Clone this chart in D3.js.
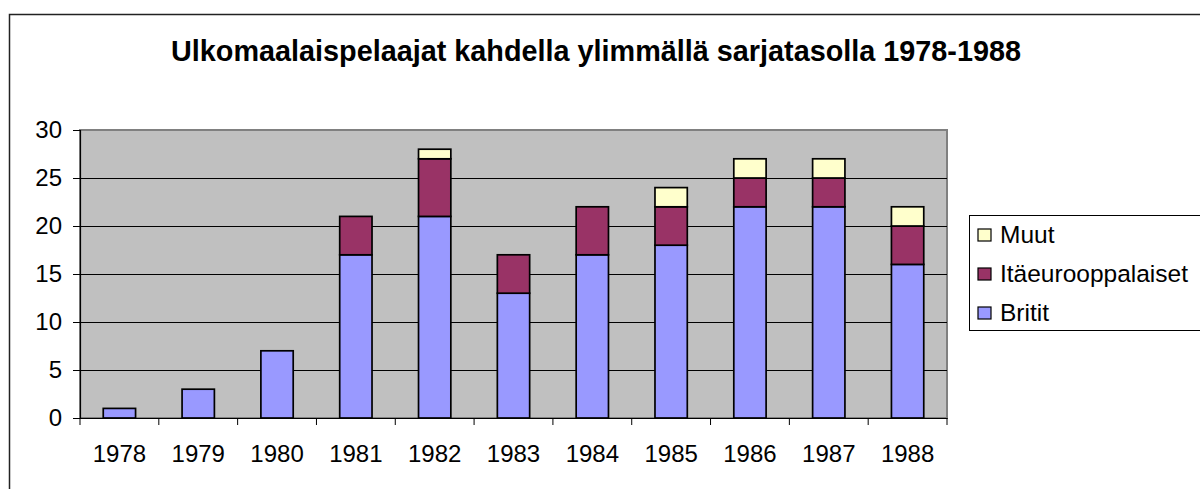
<!DOCTYPE html>
<html>
<head>
<meta charset="utf-8">
<script src="https://cdn.jsdelivr.net/npm/d3@7"></script>
<style>
  body { margin: 0; background: #fff; }
  svg { display: block; font-family: "Liberation Sans", Arial, sans-serif; }
</style>
</head>
<body>
<svg></svg>
<script>
// data
const years = ["1978", "1979", "1980", "1981", "1982", "1983", "1984", "1985", "1986", "1987", "1988"];
const britit = [1, 3, 7, 17, 21, 13, 17, 18, 22, 22, 16];
const itaeurooppalaiset = [0, 0, 0, 4, 6, 4, 5, 4, 3, 3, 4];
const muut = [0, 0, 0, 0, 1, 0, 0, 2, 2, 2, 2];
const seriesNames = ["Britit", "Itäeurooppalaiset", "Muut"];
const seriesColors = ["#9999ff", "#993366", "#ffffcc"];
const yTicks = [0, 5, 10, 15, 20, 25, 30];
const title = "Ulkomaalaispelaajat kahdella ylimmällä sarjatasolla 1978-1988";

function drawChart() {
    const width = 1200, height = 489;
    const svg = d3.select("svg").attr("width", width).attr("height", height);
    svg.selectAll("*").remove();

    // chart area border
    svg.append("rect")
        .attr("x", 9.5).attr("y", 14.5)
        .attr("width", 1300).attr("height", 600)
        .attr("fill", "#fff")
        .attr("stroke", "#222").attr("stroke-width", 1.5);

    svg.append("text")
        .attr("x", 596).attr("y", 61)
        .attr("text-anchor", "middle")
        .style("font-weight", "bold")
        .style("font-size", "28.8px")
        .text(title);

    const plot = { left: 80, right: 947, top: 130, bottom: 418 };

    const x = d3.scaleBand()
        .domain(years)
        .range([plot.left, plot.right]);

    const y = d3.scaleLinear()
        .domain([0, 30])
        .range([plot.bottom, plot.top]);

    // plot background
    svg.append("rect")
        .attr("x", plot.left).attr("y", plot.top)
        .attr("width", plot.right - plot.left).attr("height", plot.bottom - plot.top)
        .attr("fill", "#c0c0c0")
        .attr("stroke", "#808080").attr("stroke-width", 2);

    // gridlines
    svg.append("g")
        .selectAll("line")
        .data(yTicks.slice(1, -1))
        .enter().append("line")
        .attr("x1", plot.left).attr("x2", plot.right)
        .attr("y1", d => Math.round(y(d)) + 0.5).attr("y2", d => Math.round(y(d)) + 0.5)
        .attr("stroke", "#000").attr("stroke-width", 1);

    // stacked bars
    const rows = years.map((yr, i) => ({
        year: yr,
        "Britit": britit[i],
        "Itäeurooppalaiset": itaeurooppalaiset[i],
        "Muut": muut[i]
    }));
    const stacked = d3.stack().keys(seriesNames)(rows);
    const barW = x.bandwidth() * 0.41;

    svg.append("g")
        .selectAll("g")
        .data(stacked)
        .enter().append("g")
        .attr("fill", (d, i) => seriesColors[i])
        .selectAll("rect")
        .data(d => d.filter(p => p[1] > p[0]))
        .enter().append("rect")
        .attr("x", d => x(d.data.year) + (x.bandwidth() - barW) / 2)
        .attr("y", d => y(d[1]))
        .attr("width", barW)
        .attr("height", d => y(d[0]) - y(d[1]))
        .attr("stroke", "#000").attr("stroke-width", 1.7);

    // y axis
    const yAxis = svg.append("g")
        .attr("transform", "translate(" + plot.left + ",0)")
        .call(d3.axisLeft(y).tickValues(yTicks).tickSize(7).tickPadding(11));
    // x axis, ticks sit between the categories
    const xAxis = svg.append("g")
        .attr("transform", "translate(0," + plot.bottom + ")")
        .call(d3.axisBottom(x).tickSize(0).tickPadding(27));
    xAxis.selectAll(".tick")
        .append("line")
        .attr("x1", -x.bandwidth() / 2).attr("x2", -x.bandwidth() / 2)
        .attr("y1", 0).attr("y2", 7)
        .attr("stroke", "#000");
    xAxis.append("line")
        .attr("x1", plot.right).attr("x2", plot.right)
        .attr("y1", 0).attr("y2", 7)
        .attr("stroke", "#000");

    [yAxis, xAxis].forEach(a => {
        a.selectAll("text").style("font-size", "24px").attr("fill", "#000")
            .style("font-family", "'Liberation Sans', Arial, sans-serif");
        a.select(".domain").attr("stroke", "#000").attr("stroke-width", 1.2);
        a.selectAll(".tick line").attr("stroke", "#000");
    });

    // legend
    const legend = svg.append("g");
    legend.append("rect")
        .attr("x", 969.5).attr("y", 215.5)
        .attr("width", 240).attr("height", 115)
        .attr("fill", "#fff").attr("stroke", "#000");
    const legendOrder = [2, 1, 0];
    const items = legend.selectAll("g.item")
        .data(legendOrder)
        .enter().append("g")
        .attr("class", "item")
        .attr("transform", (d, i) => "translate(978," + (229 + i * 39) + ")");
    items.append("rect")
        .attr("width", 13).attr("height", 12)
        .attr("fill", d => seriesColors[d])
        .attr("stroke", "#000").attr("stroke-width", 1.2);
    items.append("text")
        .attr("x", 22).attr("y", 14)
        .style("font-size", "24.5px")
        .text(d => seriesNames[d]);
}

drawChart();
</script>
</body>
</html>
